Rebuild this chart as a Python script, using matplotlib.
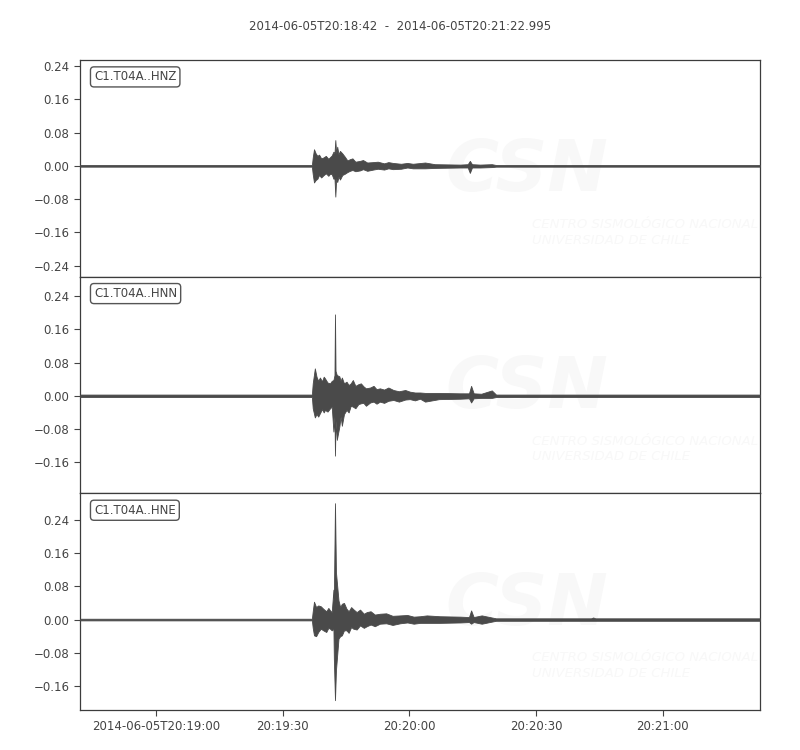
import datetime
import numpy as np
import pandas as pd
import matplotlib
matplotlib.use('Agg')
import matplotlib.pyplot as plt
import matplotlib.dates as mdates
from matplotlib.ticker import MultipleLocator, FixedLocator, FixedFormatter

# Início do registro e rótulos
inicio = datetime.datetime(2014, 6, 5, 20, 18, 42)
fim_seg = 160.995
titulo = '2014-06-05T20:18:42  -  2014-06-05T20:21:22.995'
canais = ['C1.T04A..HNZ', 'C1.T04A..HNN', 'C1.T04A..HNE']

# Envelope (segundos após o início, amplitude superior, amplitude inferior)
t_hnz = [0, 54.9, 55.1, 55.4, 55.8, 56.2, 56.6, 57.1, 57.6, 58.2, 58.8, 59.2, 59.6, 60.0, 60.25, 60.45,
         60.65, 60.9, 61.2, 61.55, 62.1, 62.7, 63.3, 63.9, 64.5, 65.2, 66.3, 67.0, 68.0, 69.4, 70.5, 72.0,
         73.0, 74.1, 76.0, 77.5, 78.8, 81.7, 84.0, 90.0, 91.8, 92.3, 92.8, 94.7, 97.5, 98.5, 120.0, 160.995]
up_hnz = [.002, .002, .020, .040, .030, .024, .027, .018, .020, .024, .017, .021, .025, .034, .030, .062,
          .030, .046, .028, .036, .030, .022, .013, .016, .018, .010, .012, .014, .008, .009, .010, .006,
          .009, .007, .005, .007, .005, .008, .004, .003, .004, .012, .004, .003, .004, .002, .002, .002]
lo_hnz = [-.002, -.002, -.020, -.040, -.034, -.031, -.022, -.028, -.023, -.018, -.024, -.019, -.020, -.031, -.030, -.074,
          -.030, -.039, -.026, -.033, -.022, -.019, -.015, -.012, -.010, -.013, -.011, -.008, -.012, -.009, -.007, -.009,
          -.006, -.008, -.007, -.004, -.006, -.006, -.005, -.004, -.004, -.017, -.004, -.004, -.003, -.002, -.002, -.002]

t_hnn = [0, 54.9, 55.1, 55.6, 56.0, 56.4, 56.8, 57.3, 57.7, 58.0, 58.6, 59.2, 59.6, 60.0, 60.25, 60.37,
         60.5, 60.8, 61.4, 61.7, 62.0, 62.5, 63.1, 63.6, 64.1, 64.6, 65.2, 65.9, 66.5, 67.1, 67.7, 68.7,
         69.5, 70.2, 71.0, 72.0, 73.0, 74.2, 75.5, 77.0, 78.1, 79.3, 80.5, 81.7, 85.0, 90.0, 92.1, 92.6,
         93.2, 95.0, 97.5, 98.5, 160.995]
up_hnn = [.003, .003, .030, .066, .046, .036, .044, .035, .046, .042, .032, .030, .036, .038, .050, .196,
          .060, .050, .047, .036, .044, .030, .034, .026, .030, .038, .024, .028, .030, .023, .018, .020,
          .024, .016, .018, .015, .020, .014, .011, .014, .010, .008, .008, .007, .007, .006, .006, .024,
          .006, .005, .013, .003, .003]
lo_hnn = [-.003, -.003, -.030, -.052, -.044, -.050, -.042, -.032, -.040, -.034, -.038, -.030, -.026, -.086, -.050, -.144,
          -.060, -.106, -.074, -.050, -.072, -.044, -.034, -.040, -.024, -.026, -.030, -.020, -.018, -.017, -.024, -.016,
          -.014, -.019, -.014, -.017, -.012, -.010, -.014, -.009, -.008, -.011, -.007, -.014, -.008, -.007, -.006, -.016,
          -.006, -.005, -.005, -.003, -.003]

t_hne = [0, 54.9, 55.1, 55.4, 55.9, 56.4, 57.0, 57.6, 58.3, 58.8, 59.2, 59.6, 60.0, 60.1, 60.37, 60.6,
         61.2, 61.6, 62.0, 62.5, 63.1, 63.6, 64.2, 64.7, 65.5, 66.3, 67.2, 67.9, 68.8, 69.8, 71.0, 72.5,
         74.0, 75.8, 77.5, 79.0, 80.5, 82.1, 85.2, 90.0, 92.1, 92.6, 93.2, 95.1, 97.5, 98.5, 121.0, 121.5,
         122.0, 160.995]
up_hne = [.002, .002, .020, .043, .030, .034, .032, .026, .020, .028, .022, .018, .072, .050, .280, .114,
          .046, .030, .038, .040, .026, .020, .030, .025, .018, .024, .014, .018, .020, .012, .014, .015,
          .009, .010, .011, .007, .008, .010, .008, .007, .006, .022, .006, .010, .005, .003, .003, .005,
          .003, .003]
lo_hne = [-.002, -.002, -.020, -.038, -.040, -.030, -.022, -.026, -.030, -.020, -.022, -.026, -.022, -.094, -.194, -.122,
          -.046, -.040, -.038, -.026, -.026, -.032, -.018, -.022, -.024, -.014, -.020, -.016, -.012, -.016, -.010, -.009,
          -.013, -.009, -.007, -.010, -.008, -.008, -.008, -.007, -.006, -.010, -.006, -.010, -.005, -.003, -.003, -.003,
          -.003, -.003]

# Marcas do eixo do tempo
xticks_seg = [18, 48, 78, 108, 138]
xtick_labels = ['2014-06-05T20:19:00', '20:19:30', '20:20:00', '20:20:30', '20:21:00']

cor_txt = '#444444'
cor_linha = '#4a4a4a'
cor_marca = '#f8f8f8'
plt.rcParams['font.family'] = ['DejaVu Sans']
plt.rcParams['font.size'] = 8.5


def para_data(seg):
    return mdates.date2num(pd.Timestamp(inicio) + pd.to_timedelta(np.asarray(seg, dtype=float), unit='s'))


tracos = [(t_hnz, up_hnz, lo_hnz), (t_hnn, up_hnn, lo_hnn), (t_hne, up_hne, lo_hne)]
# escala igual para todos os traços (como no obspy)
meia = 1.1 * max((max(u) - min(l)) / 2 for _, u, l in tracos)

fig, axes = plt.subplots(3, 1, figsize=(8, 7.5), dpi=100, sharex=True)
fig.subplots_adjust(left=0.1, right=0.95, top=0.92, bottom=0.0533, hspace=0)

for ax, (t, up, lo), nome in zip(axes, tracos, canais):
    x = para_data(t)
    ax.fill_between(x, lo, up, color=cor_linha, linewidth=0.6, zorder=3)
    meio = (max(up) + min(lo)) / 2
    ax.set_ylim(meio - meia, meio + meia)
    ax.yaxis.set_major_locator(MultipleLocator(0.08))
    ax.tick_params(colors=cor_txt, labelcolor=cor_txt, direction='out', length=4, width=0.8)
    for s in ax.spines.values():
        s.set_color('#3c3c3c')
        s.set_linewidth(0.9)
    ax.text(0.0206, 0.922, nome, transform=ax.transAxes, ha='left', va='center', color=cor_txt,
            bbox=dict(boxstyle='round,pad=0.3', facecolor='white', edgecolor='#555555', linewidth=1))
    # marca d'água quase invisível
    ax.text(0.657, 0.484, 'CSN', transform=ax.transAxes, ha='center', va='center', fontsize=52,
            fontweight='bold', fontstyle='italic', color=cor_marca, zorder=1)
    ax.text(0.665, 0.205, 'CENTRO SISMOLÓGICO NACIONAL\nUNIVERSIDAD DE CHILE', transform=ax.transAxes,
            ha='left', va='center', fontsize=9.5, fontstyle='italic', color=cor_marca, linespacing=1.25,
            zorder=1, clip_on=True)

axes[-1].set_xlim(para_data([0, fim_seg]))
axes[-1].xaxis.set_major_locator(FixedLocator(para_data(xticks_seg)))
axes[-1].xaxis.set_major_formatter(FixedFormatter(xtick_labels))
for ax in axes[:-1]:
    ax.tick_params(axis='x', bottom=False, labelbottom=False)

fig.suptitle(titulo, y=0.973, color=cor_txt, fontsize=8.5)

plt.savefig('out.png', dpi=100)
